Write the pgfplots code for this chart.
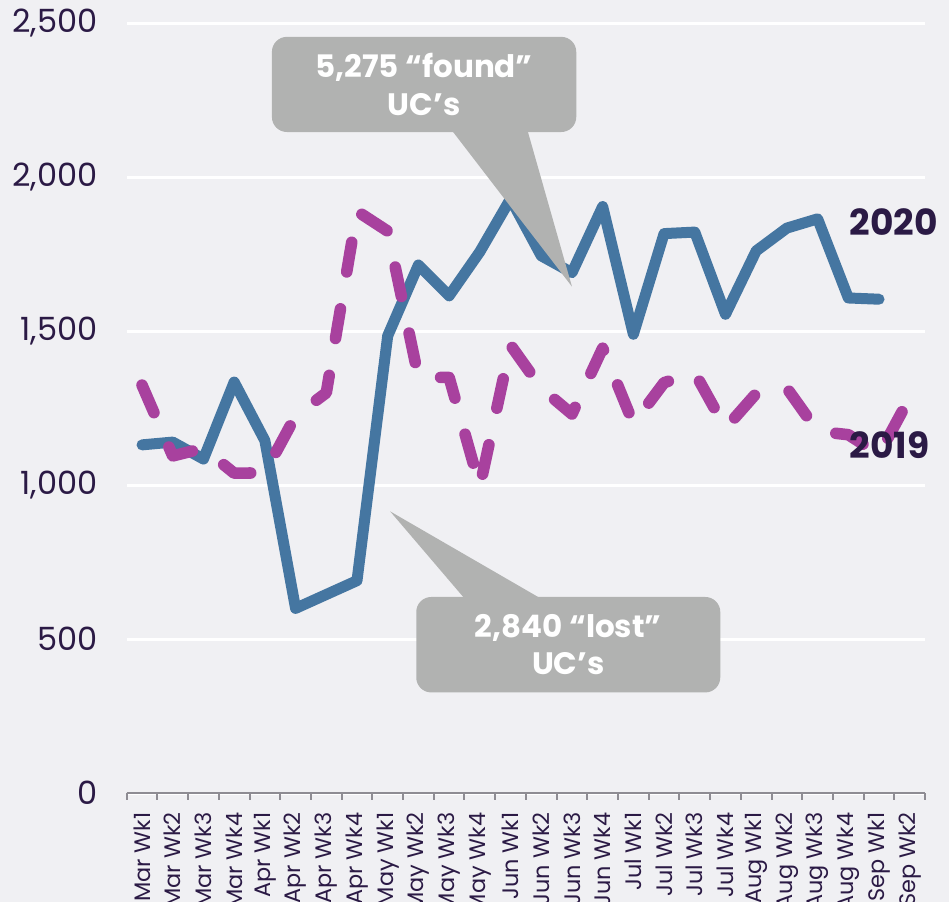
\documentclass[border=0pt]{standalone}
\usepackage{pgfplots}
\pgfplotsset{compat=1.18}
\usepackage{fontspec}
\setmainfont{Poppins}
\definecolor{bg}{HTML}{F0F0F3}
\definecolor{txt}{HTML}{2B1A45}
\definecolor{blueline}{HTML}{4576A1}
\definecolor{magline}{HTML}{A8419E}
\definecolor{callout}{HTML}{B1B2B1}
\definecolor{axgray}{HTML}{8E8C93}
\pgfplotstableread{
idx val
0 1131
1 1140
2 1085
3 1335
4 1145
5 600
6 645
7 690
8 1485
9 1715
10 1615
11 1758
12 1930
13 1745
14 1690
15 1905
16 1490
17 1817
18 1822
19 1555
20 1761
21 1835
22 1865
23 1608
24 1604
}\twentytwenty
\pgfplotstableread{
idx val
0 1325
1 1095
2 1120
3 1039
4 1040
5 1225
6 1300
7 1890
8 1825
9 1350
10 1350
11 995
12 1455
13 1315
14 1231
15 1445
16 1200
17 1333
18 1365
19 1185
20 1298
21 1315
22 1175
23 1164
24 1100
25 1285
}\twentynineteen
\begin{document}
\begin{tikzpicture}
\fill[bg] (-63.35pt,-54.35pt) rectangle (411.25pt,396.65pt);
\begin{axis}[
  at={(0,0)}, anchor=south west,
  scale only axis, width=399.3pt, height=385pt,
  xmin=-0.5, xmax=25.5, ymin=0, ymax=2500,
  clip=false,
  axis lines*=left,
  x axis line style={draw=axgray, line width=1pt},
  y axis line style={draw=none},
  ytick={0,500,...,2500},
  ytick style={draw=none},
  ymajorgrids,
  grid style={white, line width=1.5pt},
  xtick={0,...,25},
  xticklabels={Mar Wk1,Mar Wk2,Mar Wk3,Mar Wk4,Apr Wk1,Apr Wk2,Apr Wk3,Apr Wk4,May Wk1,May Wk2,May Wk3,May Wk4,Jun Wk1,Jun Wk2,Jun Wk3,Jun Wk4,Jul Wk1,Jul Wk2,Jul Wk3,Jul Wk4,Aug Wk1,Aug Wk2,Aug Wk3,Aug Wk4,Sep Wk1,Sep Wk2},
  minor xtick={-0.5,0.5,...,25.5},
  major tick length=0pt,
  minor tick length=3.3pt,
  tick align=outside,
  minor x tick style={draw=axgray, line width=1pt},
  major x tick style={draw=none},
  xticklabel style={rotate=90, anchor=east, inner sep=0pt, xshift=-9.5pt, font=\fontsize{11.2}{12}\selectfont, text=txt},
  yticklabel style={anchor=east, inner sep=0pt, xshift=-14.5pt, font=\fontsize{16}{18}\selectfont, text=txt},
  /pgf/number format/1000 sep={,},
  /pgf/number format/assume math mode=true,
]
\addplot[blueline, line width=5.5pt, line join=round, line cap=round] table[x=idx, y=val] {\twentytwenty};
\addplot[magline, line width=5.8pt, line join=round, line cap=round, dash pattern=on 15pt off 18.75pt] table[x=idx, y=val] {\twentynineteen};
% callout 1
\fill[callout] (axis cs:10.03,2160) -- (axis cs:12.53,2160) -- (axis cs:14.0,1645) -- cycle;
\fill[callout, rounded corners=7.5pt] (axis cs:4.23,2456) rectangle (axis cs:14.14,2147);
\node[text=white, align=center, font=\bfseries\fontsize{15.5}{18.7}\selectfont, inner sep=0pt] at (axis cs:9.185,2301.5) {5,275 “found”\\UC’s};
% callout 2
\fill[callout] (axis cs:10.52,630) -- (axis cs:13.02,630) -- (axis cs:8.08,915) -- cycle;
\fill[callout, rounded corners=7.5pt] (axis cs:8.93,637) rectangle (axis cs:18.83,327);
\node[text=white, align=center, font=\bfseries\fontsize{15.5}{18.7}\selectfont, inner sep=0pt] at (axis cs:13.88,482) {2,840 “lost”\\UC’s};
% series labels
\node[anchor=west, inner sep=0pt, text=txt, font=\bfseries\fontsize{18}{20}\selectfont] at (axis cs:23.03,1856) {2020};
\node[anchor=west, inner sep=0pt, text=txt, font=\bfseries\fontsize{18}{20}\selectfont] at (axis cs:23.03,1131) {2019};
\end{axis}
\pgfresetboundingbox
\useasboundingbox (-63.35pt,-54.35pt) rectangle (411.25pt,396.65pt);
\end{tikzpicture}
\end{document}
